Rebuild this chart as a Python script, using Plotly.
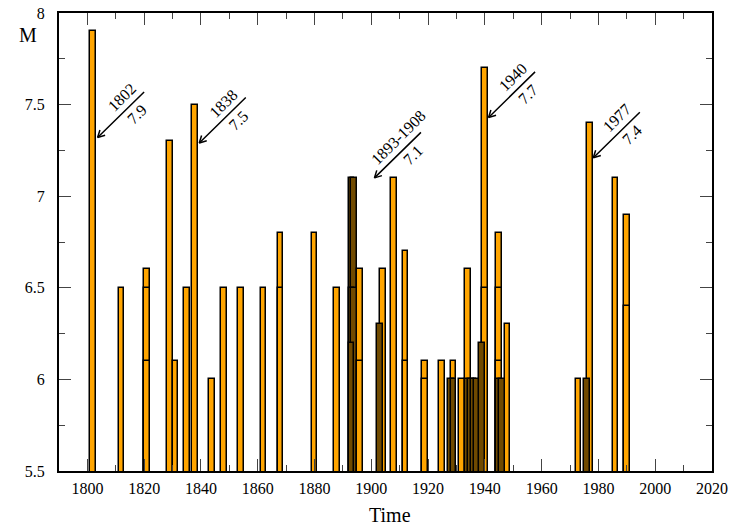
import plotly.graph_objects as go

# ---- data ----
years = [1802, 1812, 1821, 1821, 1821, 1829, 1831, 1835, 1838, 1844, 1848, 1854, 1862, 1868, 1868, 1880, 1888,
         1893, 1893, 1893, 1894, 1894, 1896, 1896, 1903, 1904, 1908, 1912, 1912, 1919, 1919, 1925,
         1928, 1929, 1929, 1932, 1934, 1934, 1935, 1936, 1937, 1939, 1940, 1940,
         1945, 1945, 1945, 1945, 1946, 1948, 1973, 1976, 1977, 1986, 1990, 1990]
magnitudes = [7.9, 6.5, 6.6, 6.5, 6.1, 7.3, 6.1, 6.5, 7.5, 6.0, 6.5, 6.5, 6.5, 6.8, 6.5, 6.8, 6.5,
              7.1, 6.5, 6.2, 7.1, 6.5, 6.6, 6.1, 6.3, 6.6, 7.1, 6.7, 6.1, 6.1, 6.0, 6.1,
              6.0, 6.1, 6.0, 6.0, 6.6, 6.0, 6.0, 6.0, 6.0, 6.2, 7.7, 6.5,
              6.8, 6.5, 6.1, 6.0, 6.0, 6.3, 6.0, 6.0, 7.4, 7.1, 6.9, 6.4]

label_years = ["1802", "1838", "1893-1908", "1940", "1977"]
label_mags = ["7.9", "7.5", "7.1", "7.7", "7.4"]
arrow_x = [1803.6, 1839.4, 1901.1, 1941.3, 1978.2]
arrow_y = [7.32, 7.29, 7.10, 7.43, 7.21]

x_ticks = list(range(1800, 2021, 20))
y_ticks = [5.5, 6, 6.5, 7, 7.5, 8]
y_tick_text = ["5.5", "6", "6.5", "7", "7.5", "8"]

ORANGE = "#FFA500"
DARK = "#704a00"
FONT = "'Liberation Serif', 'Times New Roman', Times, 'DejaVu Serif', serif"
BAR_W = 2

# bars partially overlapped by an equal/taller neighbour look dark in the reference
n = len(years)
colors = []
for i in range(n):
    dark = any(0 < abs(years[j] - years[i]) < BAR_W and magnitudes[j] >= magnitudes[i]
               for j in range(n) if j != i)
    colors.append(DARK if dark else ORANGE)

order = sorted(range(n), key=lambda i: -magnitudes[i])

fig = go.Figure()
fig.add_trace(go.Bar(
    x=[years[i] for i in order],
    y=[magnitudes[i] for i in order],
    width=BAR_W,
    marker=dict(color=[colors[i] for i in order], line=dict(color="black", width=1.5)),
    showlegend=False, hoverinfo="skip",
))

tickcolor = "#444"
fig.update_xaxes(
    range=[1790, 2020], tickmode="array", tickvals=x_ticks, ticktext=[str(v) for v in x_ticks],
    ticks="inside", ticklen=12, tickwidth=1, tickcolor=tickcolor,
    minor=dict(tickmode="array", tickvals=list(range(1790, 2021, 10)), ticks="inside",
               ticklen=6, tickwidth=1, tickcolor=tickcolor),
    showline=True, linecolor="black", linewidth=2, mirror="allticks",
    showgrid=False, zeroline=False, ticklabelstandoff=2, ticklabeloverflow="allow",
    automargin=False,
    tickfont=dict(family=FONT, size=16, color="black"),
)
fig.update_yaxes(
    range=[5.5, 8], tickmode="array", tickvals=y_ticks, ticktext=y_tick_text,
    ticks="inside", ticklen=12, tickwidth=1, tickcolor=tickcolor,
    minor=dict(tickmode="array", tickvals=[5.75, 6.25, 6.75, 7.25, 7.75], ticks="inside",
               ticklen=6, tickwidth=1, tickcolor=tickcolor),
    showline=True, linecolor="black", linewidth=2, mirror="allticks",
    showgrid=False, zeroline=False, ticklabelstandoff=9, ticklabeloverflow="allow",
    automargin=False,
    tickfont=dict(family=FONT, size=16, color="black"),
)

annotations = []
for ly, lm, axv, ayv in zip(label_years, label_mags, arrow_x, arrow_y):
    # shaft
    annotations.append(dict(x=axv, y=ayv, xref="x", yref="y", text="", showarrow=True,
                            arrowhead=0, arrowwidth=1.5, arrowcolor="black", ax=48, ay=-47,
                            standoff=0, startstandoff=0))
    # open V head
    for hx, hy in [(9.0, -2.7), (2.8, -9.0)]:
        annotations.append(dict(x=axv, y=ayv, xref="x", yref="y", text="", showarrow=True,
                                arrowhead=0, arrowwidth=1.5, arrowcolor="black", ax=hx, ay=hy,
                                standoff=0, startstandoff=0))
    annotations.append(dict(x=axv, y=ayv, xref="x", yref="y", text=ly, showarrow=False,
                            textangle=-45, xanchor="center", yanchor="middle", xshift=24, yshift=40,
                            font=dict(family=FONT, size=16, color="black")))
    annotations.append(dict(x=axv, y=ayv, xref="x", yref="y", text=lm, showarrow=False,
                            textangle=-45, xanchor="center", yanchor="middle", xshift=39, yshift=23,
                            font=dict(family=FONT, size=16, color="black")))

annotations.append(dict(x=-0.047, y=0.952, xref="paper", yref="paper", text="M", showarrow=False,
                        xanchor="center", yanchor="middle", font=dict(family=FONT, size=20, color="black")))
annotations.append(dict(x=0.507, y=-0.097, xref="paper", yref="paper", text="Time", showarrow=False,
                        xanchor="center", yanchor="middle", font=dict(family=FONT, size=20, color="black")))

fig.update_layout(
    width=732, height=529,
    margin=dict(l=59, r=20, t=13, b=58),
    paper_bgcolor="white", plot_bgcolor="white",
    barmode="overlay", bargap=0,
    font=dict(family=FONT, size=16, color="black"),
    annotations=annotations,
)

# remove the browser's default 8px body margin so the figure fills the window exactly
fig.write_html("out.html", config={"displayModeBar": False},
               post_script="document.body.style.margin='0px';document.body.style.overflow='hidden';")
